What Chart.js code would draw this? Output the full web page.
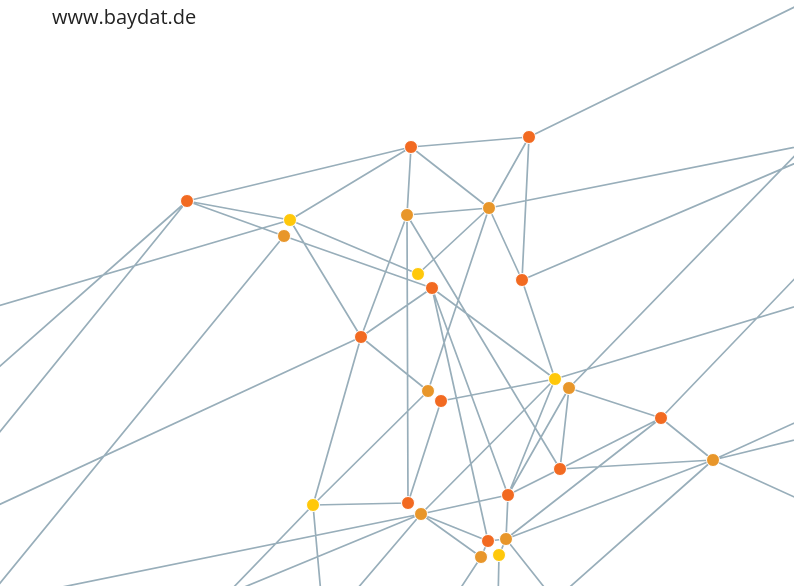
<html>

<head>
  <title>baydat network</title>
  <style>
    body {
      margin: 0;
      background: #fff;
    }
    .wrap {
      width: 794px;
      height: 586px;
      position: relative;
    }
    .brand {
      position: absolute;
      left: 52px;
      top: 3px;
      font-family: "Open Sans", "Noto Sans", sans-serif;
      font-size: 20px;
      color: #222;
    }
  </style>
  <script src="https://cdn.jsdelivr.net/npm/chart.js@4.4.0/dist/chart.umd.min.js"></script>
</head>

<body>
  <div class="wrap">
    <canvas id="chart"></canvas>
    <div class="brand">www.baydat.de</div>
  </div>

  <script>
    // nodes: id, position, group (1 = red, 2 = orange, 3 = yellow)
    const nodeIds = ['A', 'B', 'C', 'D', 'E', 'F', 'G', 'H', 'I', 'J', 'K', 'L', 'M',
      'N', 'O', 'P', 'Q', 'R', 'S', 'T', 'U', 'V', 'W', 'X', 'Y', 'Z'];
    const nodeX = [187, 290, 284, 411, 529, 407, 489, 418, 432, 522, 361, 428, 441,
      555, 569, 661, 713, 560, 508, 313, 408, 421, 488, 506, 481, 499];
    const nodeY = [201, 220, 236, 147, 137, 215, 208, 274, 288, 280, 337, 391, 401,
      379, 388, 418, 460, 469, 495, 505, 503, 514, 541, 539, 557, 555];
    const nodeGroup = [1, 3, 2, 1, 1, 2, 2, 3, 1, 1, 1, 2, 1,
      3, 2, 1, 2, 1, 1, 3, 1, 2, 1, 2, 2, 3];

    // nodes outside the visible frame (only their edges show)
    const outIds = ['o1', 'o2', 'o3', 'o4', 'o5', 'o6', 'o7', 'o8', 'o9', 'o10', 'o11', 'o12',
      'o13', 'o14', 'o15', 'o16', 'o17', 'o18', 'o19', 'o20', 'o21', 'o22'];
    const outX = [-60, -40, -60, -40, 860, 866, 850, 850, 860, 860, 860, 860,
      510, 326, 173, -100, 92, 305, 594, 420, 497, -60];
    const outY = [323, 632, 419, 481, -25, 133, 99, 221, 287, 393, 424, 527,
      640, 650, 650, 620, 650, 650, 650, 650, 650, 532];

    const edges = [
      ['A', 'D'], ['A', 'B'], ['A', 'C'], ['C', 'I'], ['A', 'o3'], ['A', 'o4'],
      ['B', 'H'], ['B', 'o1'], ['B', 'D'], ['B', 'K'], ['C', 'o2'],
      ['D', 'E'], ['D', 'F'], ['D', 'G'], ['E', 'G'], ['E', 'J'], ['E', 'o5'],
      ['F', 'G'], ['F', 'K'], ['F', 'U'], ['F', 'R'],
      ['G', 'o6'], ['G', 'J'], ['G', 'H'], ['G', 'L'],
      ['I', 'K'], ['I', 'N'], ['I', 'W'], ['I', 'S'],
      ['J', 'o6'], ['J', 'N'],
      ['K', 'T'], ['K', 'L'], ['K', 'o22'], ['L', 'T'],
      ['M', 'N'], ['M', 'U'],
      ['N', 'o9'], ['N', 'V'], ['N', 'S'],
      ['O', 'S'], ['O', 'R'], ['O', 'o7'], ['O', 'P'],
      ['P', 'o8'], ['P', 'Q'], ['P', 'R'], ['P', 'X'],
      ['Q', 'o10'], ['Q', 'o11'], ['Q', 'o12'], ['Q', 'o13'], ['Q', 'R'], ['Q', 'X'],
      ['R', 'S'], ['S', 'V'], ['S', 'X'],
      ['T', 'U'], ['T', 'o14'], ['T', 'o15'],
      ['V', 'W'], ['V', 'Y'], ['V', 'o16'], ['V', 'o17'], ['V', 'o18'],
      ['W', 'X'], ['W', 'Y'], ['X', 'Z'], ['X', 'o19'], ['Y', 'o20'], ['Z', 'o21'],
    ];

    const colors = {
      1: '#f26a21',
      2: '#e8962a',
      3: '#ffc80a',
      line: '#98aeba',
    };

    const pos = {};
    nodeIds.forEach((id, i) => { pos[id] = { x: nodeX[i], y: nodeY[i] }; });
    outIds.forEach((id, i) => { pos[id] = { x: outX[i], y: outY[i] }; });

    const edgeData = [];
    edges.forEach(([a, b]) => {
      edgeData.push(pos[a], pos[b], { x: NaN, y: NaN });
    });

    const nodeSet = (group) => ({
      data: nodeIds.filter((id, i) => nodeGroup[i] === group).map(id => pos[id]),
      backgroundColor: colors[group],
      borderColor: '#ffffff',
      borderWidth: 1,
      pointRadius: 6.5,
      pointHoverRadius: 6.5,
      order: 0,
    });

    window.chartObj = new Chart(document.querySelector('canvas#chart'), {
      type: 'scatter',
      data: {
        datasets: [
          nodeSet(1),
          nodeSet(2),
          nodeSet(3),
          {
            data: edgeData,
            showLine: true,
            spanGaps: false,
            borderColor: colors.line,
            borderWidth: 1.7,
            pointRadius: 0,
            pointHoverRadius: 0,
            order: 2,
          },
        ],
      },
      options: {
        responsive: true,
        maintainAspectRatio: false,
        animation: false,
        layout: { padding: 0, autoPadding: false },
        plugins: {
          legend: { display: false },
          tooltip: { enabled: false },
        },
        scales: {
          x: { type: 'linear', min: 0, max: 794, display: false },
          y: { type: 'linear', min: 0, max: 586, reverse: true, display: false },
        },
      },
    });
  </script>
</body>

</html>
